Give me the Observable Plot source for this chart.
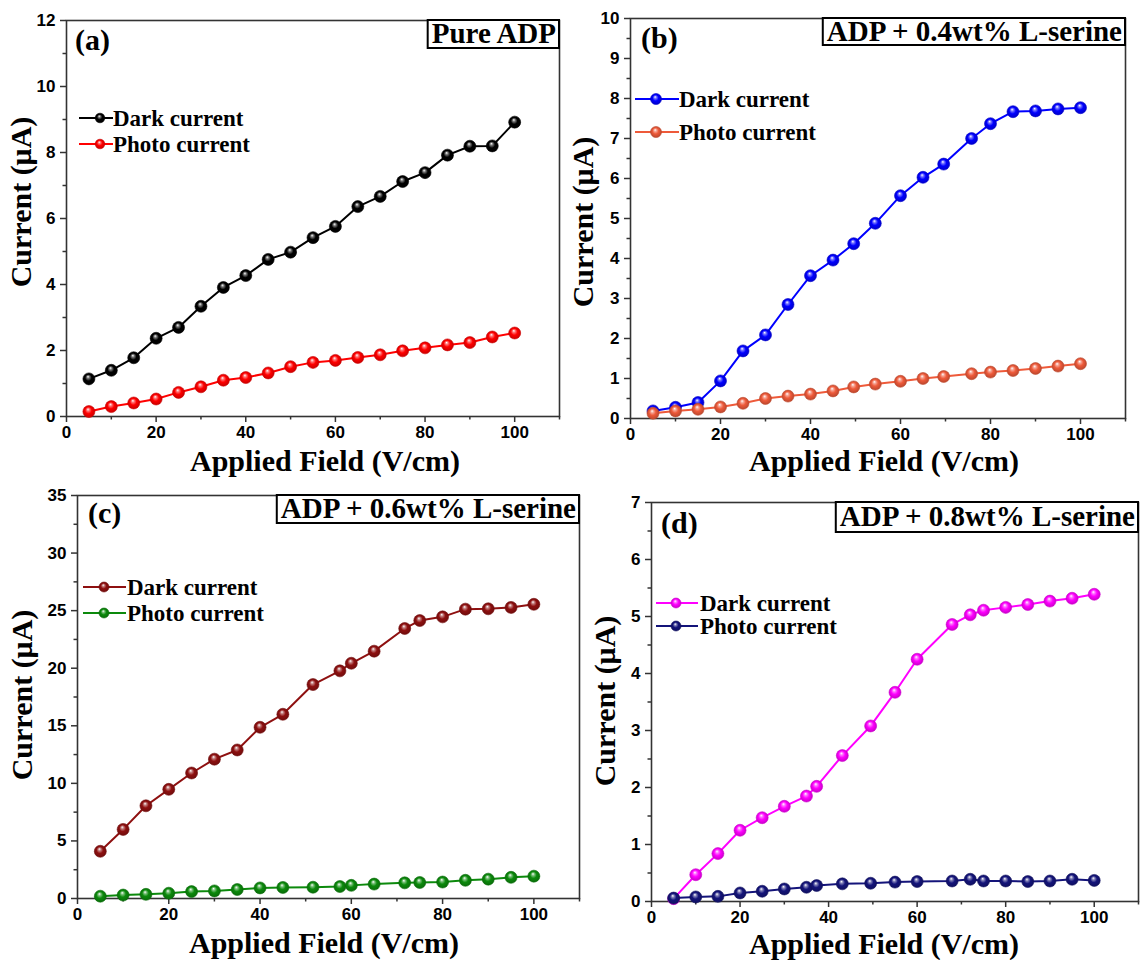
<!DOCTYPE html>
<html>
<head>
<meta charset="utf-8">
<script src="https://cdn.jsdelivr.net/npm/d3@7"></script>
<script src="https://cdn.jsdelivr.net/npm/@observablehq/plot@0.6"></script>
<style>
  html, body { margin: 0; padding: 0; background: #fff; }
  #wrap { position: relative; width: 1142px; height: 960px; background: #fff; overflow: hidden; }
  #wrap > svg { position: absolute; }
  #wrap svg.panel text { font-family: Arial, 'Liberation Sans', sans-serif !important; font-weight: 700 !important; font-size: 17px !important; fill: #000; }
</style>
</head>
<body>
<div id="wrap"></div>
<script>
// ---------------- data ----------------
const xTickLabels = [0, 20, 40, 60, 80, 100];
const xMinorTicks = [10, 30, 50, 70, 90, 110];

// (a) Pure ADP
const fieldA = [5, 10, 15, 20, 25, 30, 35, 40, 45, 50, 55, 60, 65, 70, 75, 80, 85, 90, 95, 100];
const darkA  = [1.14, 1.40, 1.78, 2.37, 2.70, 3.34, 3.91, 4.27, 4.76, 4.98, 5.42, 5.76, 6.36, 6.67, 7.12, 7.39, 7.92, 8.19, 8.20, 8.92];
const photoA = [0.15, 0.30, 0.41, 0.53, 0.73, 0.90, 1.10, 1.18, 1.32, 1.51, 1.64, 1.70, 1.79, 1.87, 1.99, 2.08, 2.17, 2.24, 2.41, 2.53];
const yTicksA = [0, 2, 4, 6, 8, 10, 12];
const yMinorA = [1, 3, 5, 7, 9, 11];

// (b) ADP + 0.4wt% L-serine
const fieldB = [5, 10, 15, 20, 25, 30, 35, 40, 45, 49.6, 54.4, 60, 65, 69.6, 75.8, 80, 85, 90, 95, 100];
const darkB  = [0.19, 0.28, 0.40, 0.94, 1.69, 2.09, 2.85, 3.57, 3.96, 4.37, 4.88, 5.57, 6.03, 6.36, 7.00, 7.37, 7.67, 7.69, 7.74, 7.77];
const photoB = [0.13, 0.19, 0.23, 0.29, 0.38, 0.50, 0.56, 0.61, 0.69, 0.79, 0.86, 0.93, 1.00, 1.05, 1.12, 1.16, 1.20, 1.25, 1.31, 1.37];
const yTicksB = [0, 1, 2, 3, 4, 5, 6, 7, 8, 9, 10];
const yMinorB = [0.5, 1.5, 2.5, 3.5, 4.5, 5.5, 6.5, 7.5, 8.5, 9.5];

// (c) ADP + 0.6wt% L-serine
const fieldC = [5, 10, 15, 20, 25, 30, 35, 40, 45, 51.6, 57.5, 60, 65, 71.7, 75, 80, 85, 90, 95, 100];
const darkC  = [4.10, 6.00, 8.05, 9.48, 10.9, 12.1, 12.9, 14.87, 16.0, 18.58, 19.77, 20.43, 21.48, 23.45, 24.14, 24.46, 25.13, 25.16, 25.28, 25.55];
const photoC = [0.20, 0.30, 0.36, 0.46, 0.60, 0.66, 0.78, 0.92, 0.96, 0.98, 1.04, 1.14, 1.25, 1.36, 1.39, 1.43, 1.58, 1.68, 1.84, 1.94];
const yTicksC = [0, 5, 10, 15, 20, 25, 30, 35];
const yMinorC = [2.5, 7.5, 12.5, 17.5, 22.5, 27.5, 32.5];

// (d) ADP + 0.8wt% L-serine
const fieldD = [5, 10, 15, 20, 25, 30, 35, 37.3, 43.1, 49.5, 55, 60, 67.9, 72, 75, 80, 85, 90, 95, 100];
const darkD  = [0.05, 0.47, 0.84, 1.25, 1.47, 1.67, 1.85, 2.02, 2.56, 3.08, 3.67, 4.25, 4.86, 5.03, 5.11, 5.16, 5.21, 5.27, 5.32, 5.39];
const photoD = [0.06, 0.08, 0.09, 0.15, 0.18, 0.22, 0.25, 0.28, 0.31, 0.32, 0.34, 0.35, 0.36, 0.39, 0.36, 0.36, 0.35, 0.36, 0.39, 0.37];
const yTicksD = [0, 1, 2, 3, 4, 5, 6, 7];
const yMinorD = [0.5, 1.5, 2.5, 3.5, 4.5, 5.5, 6.5];

const seriesNames = ["Dark current", "Photo current"];
const xTitle = "Applied Field (V/cm)";
const yTitle = "Current (μA)";

// ---------------- layout ----------------
const SERIF = "'Liberation Serif', 'Times New Roman', serif";
const SANS = "Arial, 'Liberation Sans', sans-serif";

const panels = [
  { id: "a", letter: "(a)", title: "Pure ADP", field: fieldA, dark: darkA, photo: photoA,
    yTicks: yTicksA, yMinor: yMinorA, colors: ["#000000", "#ff0000"],
    left: 0, top: 0, width: 571, height: 470, mL: 66, mR: 12, mT: 20, mB: 54,
    xTitle: [325, 471], yTitle: [31, 202], letterPos: [75, 50], boxTop: 20, boxH: 28,
    legend: { x1: 79, x2: 113, cx: 100, tx: 113, ys: [118, 144], r: 4.8 } },
  { id: "b", letter: "(b)", title: "ADP + 0.4wt% L-serine", field: fieldB, dark: darkB, photo: photoB,
    yTicks: yTicksB, yMinor: yMinorB, colors: ["#0000ff", "#ee5a3a"],
    left: 571, top: 0, width: 571, height: 470, mL: 59, mR: 17, mT: 18, mB: 52,
    xTitle: [884, 471], yTitle: [593, 222], letterPos: [641, 48], boxTop: 18, boxH: 27,
    legend: { x1: 635, x2: 679, cx: 656, tx: 679, ys: [99, 132], r: 5.5 } },
  { id: "c", letter: "(c)", title: "ADP + 0.6wt% L-serine", field: fieldC, dark: darkC, photo: photoC,
    yTicks: yTicksC, yMinor: yMinorC, colors: ["#8e1010", "#0c8a0c"],
    left: 0, top: 480, width: 590, height: 480, mL: 77, mR: 11, mT: 15, mB: 62,
    xTitle: [324, 953], yTitle: [32, 695], letterPos: [88, 523], boxTop: 495, boxH: 28,
    legend: { x1: 83, x2: 126, cx: 104, tx: 127, ys: [587, 613], r: 5 } },
  { id: "d", letter: "(d)", title: "ADP + 0.8wt% L-serine", field: fieldD, dark: darkD, photo: photoD,
    yTicks: yTicksD, yMinor: yMinorD, colors: ["#ff00ff", "#14147a"],
    left: 571, top: 480, width: 571, height: 480, mL: 80, mR: 4, mT: 22, mB: 59,
    xTitle: [884, 954], yTitle: [615, 701], letterPos: [661, 533], boxTop: 502, boxH: 30,
    legend: { x1: 656, x2: 698, cx: 676, tx: 700, ys: [603, 626], r: 5 } }
];

function addGrad(defs, id, color) {
  const g = defs.append("radialGradient").attr("id", id)
    .attr("cx", "50%").attr("cy", "50%").attr("r", "55%").attr("fx", "42%").attr("fy", "30%");
  g.append("stop").attr("offset", "0%").attr("stop-color", "#ffffff");
  g.append("stop").attr("offset", "22%").attr("stop-color", d3.interpolateRgb("#ffffff", color)(0.55));
  g.append("stop").attr("offset", "50%").attr("stop-color", color);
  g.append("stop").attr("offset", "100%").attr("stop-color", d3.color(color).darker(0.8).formatHex());
}

const wrap = document.getElementById("wrap");
const fmt = d => `${d}`;
const axisFont = { fontFamily: SANS, fontSize: 17, fontWeight: "bold", fill: "#000" };

for (const p of panels) {
  const darkRows = p.field.map((x, i) => ({ x, y: p.dark[i] }));
  const photoRows = p.field.map((x, i) => ({ x, y: p.photo[i] }));
  const gDark = `g-${p.id}-dark`, gPhoto = `g-${p.id}-photo`;
  const svg = Plot.plot({
    width: p.width, height: p.height,
    marginLeft: p.mL, marginRight: p.mR, marginTop: p.mT, marginBottom: p.mB,
    x: { domain: [0, 110] },
    y: { domain: [0, p.yTicks[p.yTicks.length - 1]] },
    style: { background: "transparent", fontFamily: SANS, fontSize: "17px", fontWeight: "bold", color: "#000", overflow: "visible" },
    marks: [
      Plot.axisX(xTickLabels, { ...axisFont, tickSize: 6, tickPadding: 3, strokeWidth: 1.5, stroke: "#333", tickFormat: fmt, label: null }),
      Plot.axisX(xMinorTicks, { tickSize: 3.5, strokeWidth: 1.5, stroke: "#333", tickFormat: () => "", label: null }),
      Plot.axisY(p.yTicks, { ...axisFont, tickSize: 6, tickPadding: 5, strokeWidth: 1.5, stroke: "#333", tickFormat: fmt, label: null }),
      Plot.axisY(p.yMinor, { tickSize: 3.5, strokeWidth: 1.5, stroke: "#333", tickFormat: () => "", label: null }),
      Plot.frame({ stroke: "#333", strokeWidth: 1.6 }),
      Plot.line(darkRows, { x: "x", y: "y", stroke: p.colors[0], strokeWidth: 2 }),
      Plot.dot(darkRows, { x: "x", y: "y", r: 6, fill: `url(#${gDark})`, stroke: d3.color(p.colors[0]).darker(0.6).formatHex(), strokeWidth: 0.6 }),
      Plot.line(photoRows, { x: "x", y: "y", stroke: p.colors[1], strokeWidth: 2 }),
      Plot.dot(photoRows, { x: "x", y: "y", r: 6, fill: `url(#${gPhoto})`, stroke: d3.color(p.colors[1]).darker(0.6).formatHex(), strokeWidth: 0.6 })
    ]
  });
  svg.classList.add("panel");
  const defs = d3.select(svg).insert("defs", ":first-child");
  addGrad(defs, gDark, p.colors[0]);
  addGrad(defs, gPhoto, p.colors[1]);
  d3.select(svg).selectAll("text")
    .attr("font-weight", "bold").style("font-weight", "700").style("font-family", SANS).style("font-size", "17px");
  svg.style.left = p.left + "px";
  svg.style.top = p.top + "px";
  wrap.appendChild(svg);
}

// ---------------- overlay: titles, letters, boxes, legends ----------------
const ov = d3.select(wrap).append("svg")
  .attr("width", 1142).attr("height", 960)
  .style("left", "0px").style("top", "0px").style("pointer-events", "none");
const odefs = ov.append("defs");

for (const p of panels) {
  const frameRight = p.left + p.width - p.mR;
  // axis titles
  ov.append("text").attr("x", p.xTitle[0]).attr("y", p.xTitle[1])
    .attr("text-anchor", "middle").style("font", `bold 30px ${SERIF}`).text(xTitle);
  ov.append("text").attr("transform", `translate(${p.yTitle[0]},${p.yTitle[1]}) rotate(-90)`)
    .attr("text-anchor", "middle").style("font", `bold 30px ${SERIF}`).text(yTitle);
  // panel letter
  ov.append("text").attr("x", p.letterPos[0]).attr("y", p.letterPos[1])
    .style("font", `bold 30px ${SERIF}`).text(p.letter);
  // title box
  const tb = ov.append("g");
  const rect = tb.append("rect");
  const t = tb.append("text").attr("x", frameRight - 3).attr("y", p.boxTop + p.boxH / 2 + 9)
    .attr("text-anchor", "end").style("font", `bold 29px ${SERIF}`).text(p.title);
  const w = t.node().getComputedTextLength();
  rect.attr("x", frameRight - w - 7).attr("y", p.boxTop).attr("width", w + 7).attr("height", p.boxH)
    .attr("fill", "#fff").attr("stroke", "#000").attr("stroke-width", 2);
  // legend
  p.colors.forEach((c, i) => {
    const gid = `lg-${p.id}-${i}`;
    addGrad(odefs, gid, c);
    const y = p.legend.ys[i];
    ov.append("line").attr("x1", p.legend.x1).attr("x2", p.legend.x2).attr("y1", y).attr("y2", y)
      .attr("stroke", c).attr("stroke-width", 2);
    ov.append("circle").attr("cx", p.legend.cx).attr("cy", y).attr("r", p.legend.r)
      .attr("fill", `url(#${gid})`).attr("stroke", d3.color(c).darker(0.6).formatHex()).attr("stroke-width", 0.6);
    ov.append("text").attr("x", p.legend.tx).attr("y", y + 7.5)
      .style("font", `bold 23px ${SERIF}`).text(seriesNames[i]);
  });
}
</script>
</body>
</html>
